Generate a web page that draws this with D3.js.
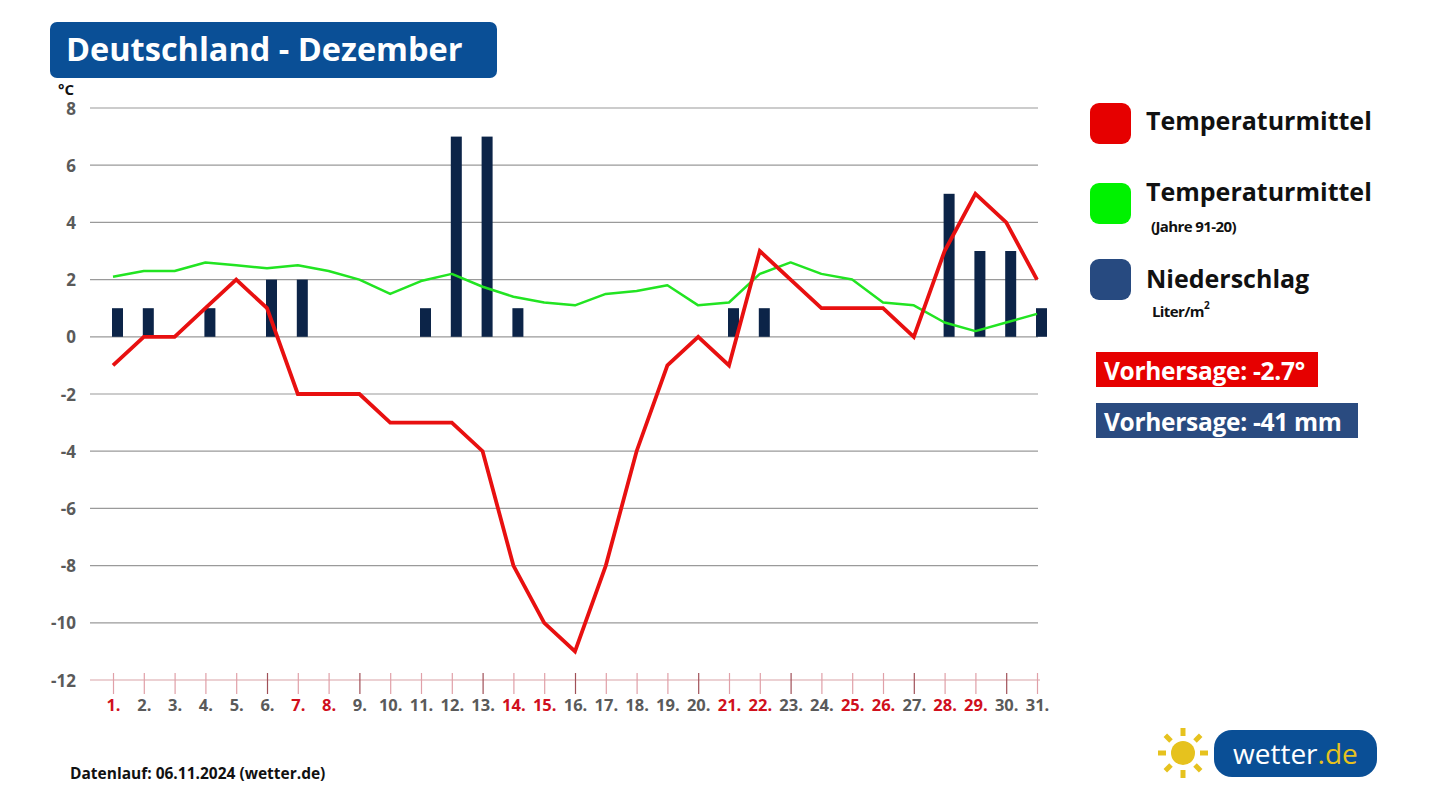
<!DOCTYPE html>
<html><head><meta charset="utf-8">
<script src="https://cdn.jsdelivr.net/npm/d3@7"></script>
<style>
html,body{margin:0;padding:0;background:#fff;}
svg{display:block;font-family:"Open Sans",sans-serif;}
</style></head>
<body><svg id="c" width="1433" height="806"></svg>
<script>
const days = d3.range(1, 32);
const tempMean = [-1,0,0,1,2,1,-2,-2,-2,-3,-3,-3,-4,-8,-10,-11,-8,-4,-1,0,-1,3,2,1,1,1,0,3,5,4,2];
const tempClimate = [2.1,2.3,2.3,2.6,2.5,2.4,2.5,2.3,2.0,1.5,1.95,2.2,1.75,1.4,1.2,1.1,1.5,1.6,1.8,1.1,1.2,2.2,2.6,2.2,2.0,1.2,1.1,0.5,0.2,0.5,0.8];
const precip = [1,1,0,1,0,2,2,0,0,0,1,7,7,1,0,0,0,0,0,0,1,1,0,0,0,0,0,5,3,3,1];
const redDays = [1,7,8,14,15,21,22,25,26,28,29];
const darkTickDays = [6,9,13,16,20,23,27,30];
const yTicks = [8,6,4,2,0,-2,-4,-6,-8,-10,-12];

const svg = d3.select("#c");
const x = d3.scaleLinear().domain([1,31]).range([113,1037]);
const y = d3.scaleLinear().domain([-12,8]).range([680,108]);

// title
svg.append("rect").attr("x",50).attr("y",22).attr("width",447).attr("height",56).attr("rx",7).attr("fill","#0a4f96");
svg.append("text").attr("x",66).attr("y",61).attr("fill","#fff").attr("font-size",32.5).attr("font-weight",700).text("Deutschland - Dezember");

// unit
svg.append("text").attr("x",58).attr("y",95).attr("font-size",15).attr("font-weight",700).attr("fill","#111").text("°C");

// grid
const gGrid = svg.append("g");
yTicks.filter(v=>v>-12).forEach(v=>{
  gGrid.append("line").attr("x1",90).attr("x2",1038).attr("y1",y(v)).attr("y2",y(v)).attr("stroke","#9a9a9a").attr("stroke-width",1.2);
});
// y axis labels via d3 axis
const yAxis = d3.axisLeft(y).tickValues(yTicks).tickSize(0).tickPadding(0).tickFormat(d=>String(d));
const gy = svg.append("g").attr("transform","translate(76,0)").call(yAxis);
gy.select(".domain").remove();
gy.selectAll("text").attr("font-size",17).attr("font-weight",700).attr("fill","#5a5a5a").attr("font-family","Open Sans").attr("dy","0.36em");

// bottom axis
svg.append("line").attr("x1",90).attr("x2",1040).attr("y1",680).attr("y2",680).attr("stroke","#d9a3a8").attr("stroke-width",1.2);
const xAxis = d3.axisBottom(x).tickValues(days).tickSize(0).tickPadding(0).tickFormat(d=>d+".");
const gx = svg.append("g").attr("transform","translate(0,680)").call(xAxis);
gx.select(".domain").remove();
gx.selectAll(".tick").append("line").attr("y1",-7).attr("y2",14)
  .attr("stroke",d=>darkTickDays.includes(d)?"#a05058":"#e0a0a8").attr("stroke-width",1.2);
gx.selectAll("text").attr("dy",0).attr("y",31).attr("font-size",16.5).attr("font-weight",700).attr("font-family","Open Sans")
  .attr("fill",d=>redDays.includes(d)?"#d0101c":"#5a5a5a");

// bars
const bw = 11;
svg.append("g").selectAll("rect").data(days.map((d,i)=>({d,v:precip[i]})).filter(o=>o.v>0)).join("rect")
  .attr("x",o=>x(o.d)-1).attr("width",bw)
  .attr("y",o=>y(o.v)).attr("height",o=>y(0)-y(o.v)).attr("fill","#0c2448");

// lines
const line = d3.line().x((v,i)=>x(days[i])).y(v=>y(v));
svg.append("path").attr("d",line(tempClimate)).attr("fill","none").attr("stroke","#22e422").attr("stroke-width",2.5).attr("stroke-linejoin","round");
svg.append("path").attr("d",line(tempMean)).attr("fill","none").attr("stroke","#e81010").attr("stroke-width",3.8).attr("stroke-linejoin","miter");

// legend
const lg = svg.append("g");
const legendItems = [
  {c:"#e60000", y:103, t:"Temperaturmittel", ty:130, s:null},
  {c:"#00f200", y:183, t:"Temperaturmittel", ty:201, s:"(Jahre 91-20)", sy:232, sx:1151},
  {c:"#274a80", y:259, t:"Niederschlag", ty:288, s:"Liter/m", sy:317, sx:1152}
];
legendItems.forEach(it=>{
  lg.append("rect").attr("x",1090).attr("y",it.y).attr("width",41).attr("height",41).attr("rx",9).attr("fill",it.c);
  lg.append("text").attr("x",1146).attr("y",it.ty).attr("font-size",25).attr("font-weight",700).attr("fill","#111").text(it.t);
  if(it.s){
    const st = lg.append("text").attr("x",it.sx).attr("y",it.sy).attr("font-size",15).attr("font-weight",700).attr("fill","#111").attr("letter-spacing",-0.6).text(it.s);
    if(it.t==="Niederschlag"){
      st.append("tspan").attr("dy",-8).attr("font-size",10).text("2");
    }
  }
});

// forecast boxes
svg.append("rect").attr("x",1096).attr("y",352).attr("width",222).attr("height",35).attr("fill","#e60000");
svg.append("text").attr("x",1104).attr("y",380).attr("font-size",24.5).attr("font-weight",700).attr("fill","#fff").attr("letter-spacing",-0.3).text("Vorhersage: -2.7°");
svg.append("rect").attr("x",1096).attr("y",403).attr("width",262).attr("height",35).attr("fill","#2a4b80");
svg.append("text").attr("x",1104).attr("y",431).attr("font-size",24.5).attr("font-weight",700).attr("fill","#fff").attr("letter-spacing",-0.3).text("Vorhersage: -41 mm");

// footer
svg.append("text").attr("x",70).attr("y",779).attr("font-size",15.5).attr("font-weight",700).attr("fill","#111").text("Datenlauf: 06.11.2024 (wetter.de)");

// logo
const logo = svg.append("g");
const sx=1183, sy=753;
logo.append("circle").attr("cx",sx).attr("cy",sy).attr("r",12).attr("fill","#e6c21e");
d3.range(8).forEach(k=>{
  const a = k*Math.PI/4;
  logo.append("line").attr("x1",sx+Math.cos(a)*17).attr("y1",sy+Math.sin(a)*17)
    .attr("x2",sx+Math.cos(a)*25).attr("y2",sy+Math.sin(a)*25)
    .attr("stroke","#e6c21e").attr("stroke-width",5);
});
logo.append("rect").attr("x",1214).attr("y",730).attr("width",163).attr("height",47).attr("rx",18).attr("fill","#0a4f96");
const lt = logo.append("text").attr("x",1233).attr("y",764).attr("font-size",28).attr("font-family","Open Sans").attr("font-weight",500).attr("fill","#fff").text("wetter");
lt.append("tspan").attr("fill","#e6c21e").text(".de");
</script>
</body></html>
